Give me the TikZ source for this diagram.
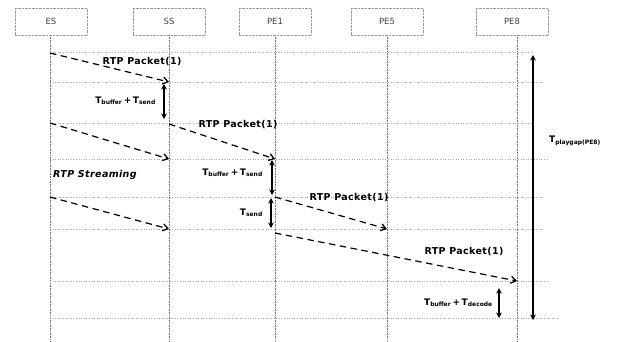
\documentclass[tikz,border=0pt]{standalone}
\usepackage{fontspec}
\setmainfont{DejaVu Sans}
\newfontfamily\lblfont[LetterSpace=4]{DejaVu Sans}
\usetikzlibrary{arrows.meta}
\begin{document}
\begin{tikzpicture}[x=1pt,y=-1pt,
  hdr/.style={draw=black!40,densely dotted,minimum width=72pt,minimum height=27pt,inner sep=0pt,font=\fontsize{8.5}{10}\selectfont\color{black!75}},
  life/.style={black!55,densely dotted,line width=0.6pt},
  gridline/.style={black!35,dotted,line width=0.6pt},
  msg/.style={dashed,dash pattern=on 6.5pt off 4.5pt,line width=1.2pt,-{Straight Barb[length=5pt,width=7pt,line width=1.3pt]}},
  dbl/.style={line width=1.3pt,{Stealth[length=5.5pt,width=5.5pt]}-{Stealth[length=5.5pt,width=5.5pt]}},
  lbl/.style={font=\lblfont\bfseries\fontsize{9.5}{11}\selectfont,inner sep=1pt},
  tlbl/.style={font=\bfseries\fontsize{9}{11}\selectfont,inner sep=1pt}]
\useasboundingbox (0,0) rectangle (625,341);
% header boxes
\node[hdr] (ES) at (51,21.5) {ES};
\node[hdr] (SS) at (169,21.5) {SS};
\node[hdr] (PE1) at (275,21.5) {PE1};
\node[hdr] (PE5) at (387,21.5) {PE5};
\node[hdr] (PE8) at (512,21.5) {PE8};
% lifelines
\coordinate (ESb) at (50,341);
\coordinate (SSb) at (169,341);
\coordinate (PE1b) at (275,341);
\coordinate (PE5b) at (387,341);
\coordinate (PE8b) at (517,341);
\draw[life] (50,35) -- (ESb);
\draw[life] (169,35) -- (SSb);
\draw[life] (275,35) -- (PE1b);
\draw[life] (387,35) -- (PE5b);
\draw[life] (517,35) -- (PE8b);
% grid lines
\foreach \y/\e in {52/533,82/542,123/533,159/547,197/542,229/542,281/548,318/558}{
  \draw[gridline] (50,\y) -- (\e,\y);
}
% message endpoints
\coordinate (a1) at (50,53);  \coordinate (b1) at (169,82);
\coordinate (a2) at (50,123); \coordinate (b2) at (169,159);
\coordinate (a3) at (169,124); \coordinate (b3) at (275,159);
\coordinate (a4) at (50,197); \coordinate (b4) at (169,229);
\coordinate (a5) at (275,197); \coordinate (b5) at (387,229);
\coordinate (a6) at (275,233); \coordinate (b6) at (517,281);
\draw[msg] (a1) -- (b1);
\draw[msg] (a2) -- (b2);
\draw[msg] (a3) -- (b3);
\draw[msg] (a4) -- (b4);
\draw[msg] (a5) -- (b5);
\draw[msg] (a6) -- (b6);
\node[lbl] (l1) at (142,62) {RTP Packet(1)};
\node[lbl] (l3) at (238,125) {RTP Packet(1)};
\node[lbl] (l5) at (349,198) {RTP Packet(1)};
\node[lbl] (l6) at (464,252) {RTP Packet(1)};
\node[lbl,font=\lblfont\bfseries\itshape\fontsize{9.5}{11}\selectfont,anchor=west] (rs) at (52,175) {RTP Streaming};
% interval arrows
\coordinate (d1a) at (164,84);  \coordinate (d1b) at (164,119);
\coordinate (d2a) at (272,160); \coordinate (d2b) at (272,195);
\coordinate (d3a) at (271,198); \coordinate (d3b) at (271,228);
\coordinate (d4a) at (499,288); \coordinate (d4b) at (499,318);
\coordinate (d5a) at (533,55);  \coordinate (d5b) at (533,320);
\draw[dbl] (d1a) -- (d1b);
\draw[dbl] (d2a) -- (d2b);
\draw[dbl] (d3a) -- (d3b);
\draw[dbl] (d4a) -- (d4b);
\draw[dbl] (d5a) -- (d5b);
\node[tlbl,anchor=east] (t1) at (157,101) {T\textsubscript{buffer}\,+\,T\textsubscript{send}};
\node[tlbl,anchor=east] (t2) at (264,173) {T\textsubscript{buffer}\,+\,T\textsubscript{send}};
\node[tlbl,anchor=east] (t3) at (264,213) {T\textsubscript{send}};
\node[tlbl,anchor=east] (t4) at (494,303) {T\textsubscript{buffer}\,+\,T\textsubscript{decode}};
\node[tlbl,anchor=west] (t5) at (548,141) {T\textsubscript{playgap(PE8)}};
\end{tikzpicture}
\end{document}
